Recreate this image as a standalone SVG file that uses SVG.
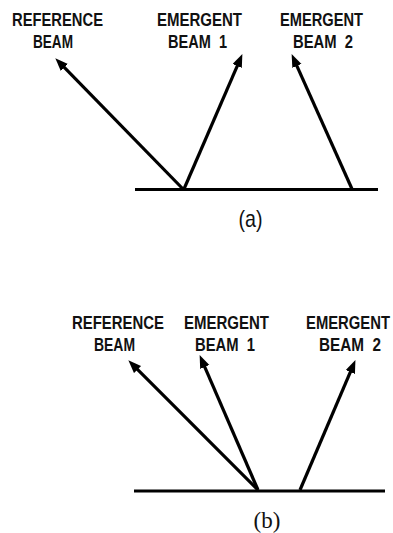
<svg xmlns="http://www.w3.org/2000/svg" width="393" height="533" viewBox="0 0 393 533">
<style>
.lbl{font-family:"Liberation Sans",Arial,sans-serif;font-weight:bold;font-size:17.5px;fill:#111}
.ray{stroke:#000;stroke-width:3.2;fill:none;marker-end:url(#ah)}
.surf{stroke:#000;stroke-width:3;fill:none}
.cap{font-family:"Liberation Sans",Arial,sans-serif;font-size:24px;fill:#111}
.capb{font-family:"Liberation Serif","Times New Roman",serif;font-size:23px;fill:#111}
</style>
<defs>
<marker id="ah" markerUnits="userSpaceOnUse" markerWidth="14" markerHeight="11" refX="4" refY="5" orient="auto">
<path d="M0,0 L13,5 L0,10 z" fill="#000"/>
</marker>
</defs>
<g id="panel-a">
<g id="a-ref-label">
<text class="lbl" x="12" y="26" textLength="91" lengthAdjust="spacingAndGlyphs">REFERENCE</text>
<text class="lbl" x="33" y="48" textLength="40" lengthAdjust="spacingAndGlyphs">BEAM</text>
</g>
<g id="a-em1-label">
<text class="lbl" x="157" y="26" textLength="85" lengthAdjust="spacingAndGlyphs">EMERGENT</text>
<text class="lbl" x="168" y="48" textLength="59" lengthAdjust="spacingAndGlyphs" xml:space="preserve">BEAM  1</text>
</g>
<g id="a-em2-label">
<text class="lbl" x="280" y="26" textLength="83" lengthAdjust="spacingAndGlyphs">EMERGENT</text>
<text class="lbl" x="293" y="48" textLength="60" lengthAdjust="spacingAndGlyphs" xml:space="preserve">BEAM  2</text>
</g>
<g id="a-caption">
<text class="cap" x="250.5" y="227" text-anchor="middle" textLength="24" lengthAdjust="spacingAndGlyphs">(a)</text>
</g>
</g>
<g id="panel-b">
<g id="b-ref-label">
<text class="lbl" x="72" y="328.5" textLength="92" lengthAdjust="spacingAndGlyphs">REFERENCE</text>
<text class="lbl" x="94" y="350.5" textLength="41" lengthAdjust="spacingAndGlyphs">BEAM</text>
</g>
<g id="b-em1-label">
<text class="lbl" x="184" y="329" textLength="85" lengthAdjust="spacingAndGlyphs">EMERGENT</text>
<text class="lbl" x="195" y="351" textLength="60" lengthAdjust="spacingAndGlyphs" xml:space="preserve">BEAM  1</text>
</g>
<g id="b-em2-label">
<text class="lbl" transform="translate(306,329) scale(0.847,1)">EMERGENT</text>
<text class="lbl" x="319" y="351" textLength="62" lengthAdjust="spacingAndGlyphs" xml:space="preserve">BEAM  2</text>
</g>
<g id="b-caption">
<text class="capb" x="267" y="528" text-anchor="middle">(b)</text>
</g>
</g>
<g id="connectors">
<line class="surf" x1="135" y1="189.5" x2="378" y2="189.5"/>
<line class="ray" x1="183" y1="189" x2="61.6" y2="64.7"/>
<line class="ray" x1="184" y1="189" x2="238.8" y2="62.3"/>
<line class="ray" x1="352" y1="189" x2="295.3" y2="62.3"/>
<line class="surf" x1="134" y1="491" x2="385" y2="491"/>
<line class="ray" x1="258" y1="490" x2="134.7" y2="366.7"/>
<line class="ray" x1="258" y1="490" x2="203.2" y2="363.3"/>
<line class="ray" x1="300" y1="490" x2="351.9" y2="368.4"/>
</g>
</svg>
